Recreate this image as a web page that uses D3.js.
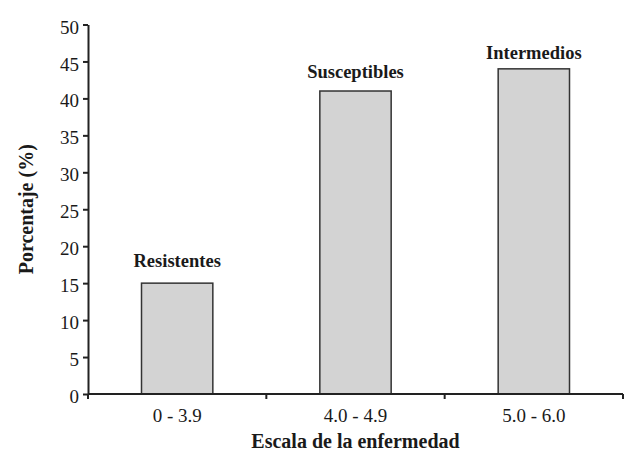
<!DOCTYPE html>
<meta charset="utf-8" />
<style>
  body { margin: 0; background: #fff; }
  text { font-family: "Liberation Serif", "Times New Roman", serif; fill: #1a1a1a; }
</style>
<body>
  <script src="https://d3js.org/d3.v7.min.js"></script>
  <script>
    // data
    const categories = ["0 - 3.9", "4.0 - 4.9", "5.0 - 6.0"];
    const values = [15, 41, 44];
    const barLabels = ["Resistentes", "Susceptibles", "Intermedios"];
    const yTicks = [0, 5, 10, 15, 20, 25, 30, 35, 40, 45, 50];

    const width = 625, height = 461;
    const margin = { top: 24.5, right: 2, bottom: 67, left: 88 };

    const svg = d3.select("body").append("svg")
      .attr("width", width)
      .attr("height", height);

    const x = d3.scaleBand()
      .domain(categories)
      .range([margin.left, width - margin.right])
      .paddingInner(0.6)
      .paddingOuter(0.3);

    const y = d3.scaleLinear()
      .domain([0, 50])
      .range([height - margin.bottom, margin.top]);

    // bars
    svg.selectAll("rect.bar")
      .data(values)
      .join("rect")
      .attr("class", "bar")
      .attr("x", (d, i) => x(categories[i]))
      .attr("y", d => y(d))
      .attr("width", x.bandwidth())
      .attr("height", d => y(0) - y(d))
      .attr("fill", "#d3d3d3")
      .attr("stroke", "#333")
      .attr("stroke-width", 1.5);

    // labels above bars (small per-label nudges seen in the picture)
    const labelDy = [-16, -13, -10];
    svg.selectAll("text.lab")
      .data(barLabels)
      .join("text")
      .attr("class", "lab")
      .attr("x", (d, i) => x(categories[i]) + x.bandwidth() / 2)
      .attr("y", (d, i) => y(values[i]) + labelDy[i])
      .attr("text-anchor", "middle")
      .attr("font-weight", "bold")
      .attr("font-size", 18.5)
      .text(d => d);

    // y axis
    const yAxis = svg.append("g")
      .attr("transform", "translate(" + margin.left + ",0)")
      .call(d3.axisLeft(y).tickValues(yTicks).tickSize(5).tickPadding(4).tickSizeOuter(0));
    yAxis.select(".domain").attr("stroke", "#222").attr("stroke-width", 2);
    yAxis.selectAll(".tick line").attr("stroke", "#222").attr("stroke-width", 2);
    yAxis.selectAll(".tick text")
      .attr("font-size", 19)
      .attr("dy", "0.45em");

    // x axis: line, ticks at band boundaries, labels at band centres
    const x0 = x.range()[0], step = x.step();
    const baseY = y(0);
    svg.append("line")
      .attr("x1", x0).attr("x2", x.range()[1])
      .attr("y1", baseY).attr("y2", baseY)
      .attr("stroke", "#222").attr("stroke-width", 2);
    svg.selectAll("line.xtick")
      .data(d3.range(categories.length + 1))
      .join("line")
      .attr("class", "xtick")
      .attr("x1", i => x0 + step * i).attr("x2", i => x0 + step * i)
      .attr("y1", baseY).attr("y2", baseY + 5)
      .attr("stroke", "#222").attr("stroke-width", 2);
    svg.selectAll("text.xlab")
      .data(categories)
      .join("text")
      .attr("class", "xlab")
      .attr("x", d => x(d) + x.bandwidth() / 2)
      .attr("y", baseY + 28)
      .attr("text-anchor", "middle")
      .attr("font-size", 19)
      .text(d => d);

    // axis titles
    svg.append("text")
      .attr("x", x0 + (x.range()[1] - x0) / 2)
      .attr("y", 448)
      .attr("text-anchor", "middle")
      .attr("font-weight", "bold")
      .attr("font-size", 20)
      .text("Escala de la enfermedad");

    svg.append("text")
      .attr("transform", "translate(33," + (margin.top + baseY) / 2 + ") rotate(-90)")
      .attr("text-anchor", "middle")
      .attr("font-weight", "bold")
      .attr("font-size", 20)
      .text("Porcentaje (%)");
  </script>
</body>
